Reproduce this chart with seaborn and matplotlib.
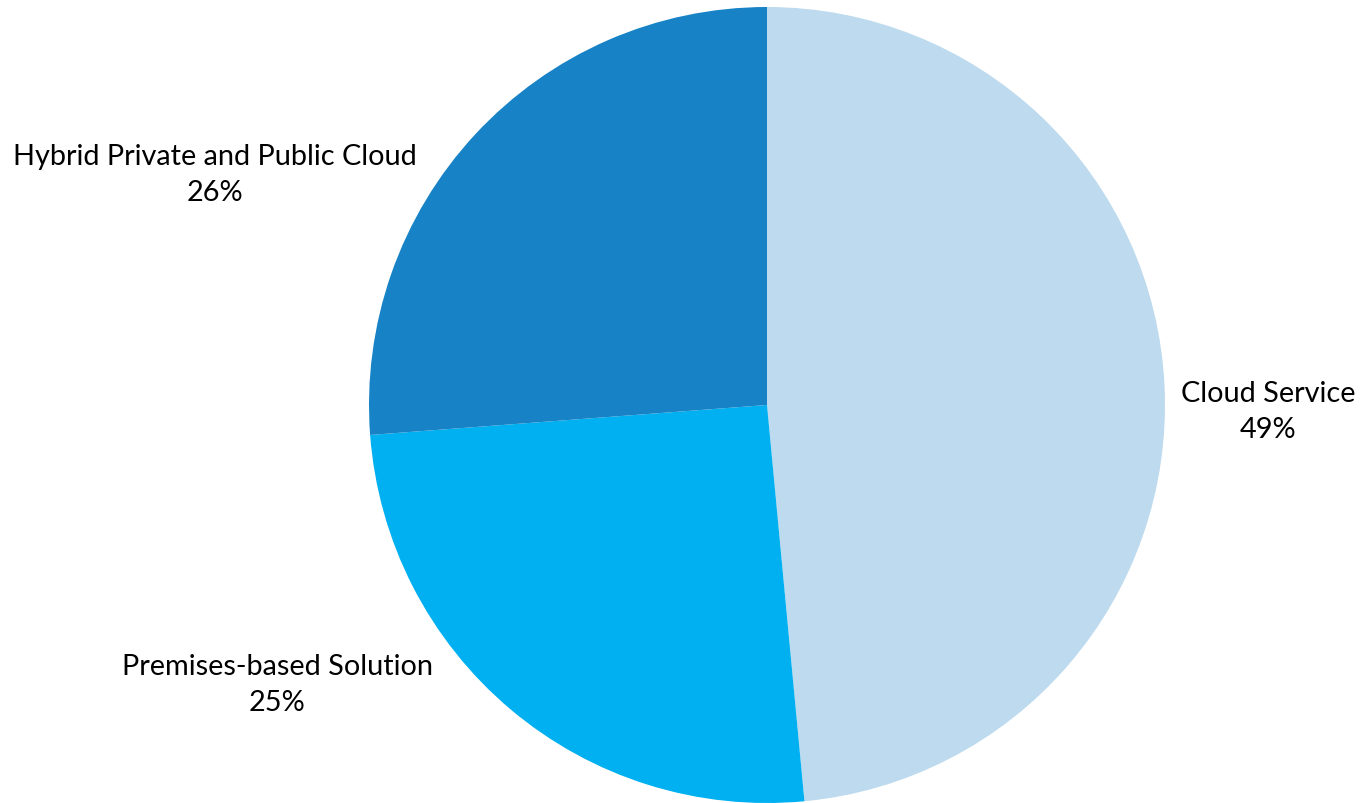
import matplotlib
matplotlib.use("Agg")
import matplotlib.pyplot as plt
import seaborn as sns

sns.set_theme(style="white")
plt.rcParams['font.family'] = ['Lato', 'DejaVu Sans']

# Share of deployment preference
categories = ['Cloud Service', 'Premises-based Solution', 'Hybrid Private and Public Cloud']
shares = [48.5, 25.3, 26.2]
pct_labels = ['49%', '25%', '26%']
colors = ['#BDDAEE', '#00B0F0', '#1783C6']

# label placement (relative to pie radius = 1)
label_pos = [(1.26, -0.015), (-1.231, -0.701), (-1.387, 0.58)]

fig = plt.figure(figsize=(13.61, 8.04), dpi=100)
ax = fig.add_axes([369 / 1361, 0 / 804, 796 / 1361, 796 / 804])

ax.pie(shares, colors=colors, startangle=90, counterclock=False,
       radius=1, wedgeprops=dict(linewidth=0))

for name, pct, (x, y) in zip(categories, pct_labels, label_pos):
    ax.text(x, y, f"{name}\n{pct}", ha='center', va='center',
            fontsize=20.8, color='black', linespacing=1.5, clip_on=False)

ax.set_xlim(-1, 1)
ax.set_ylim(-1, 1)
ax.set_aspect('equal')
ax.axis('off')

fig.savefig('out.png', dpi=100)
